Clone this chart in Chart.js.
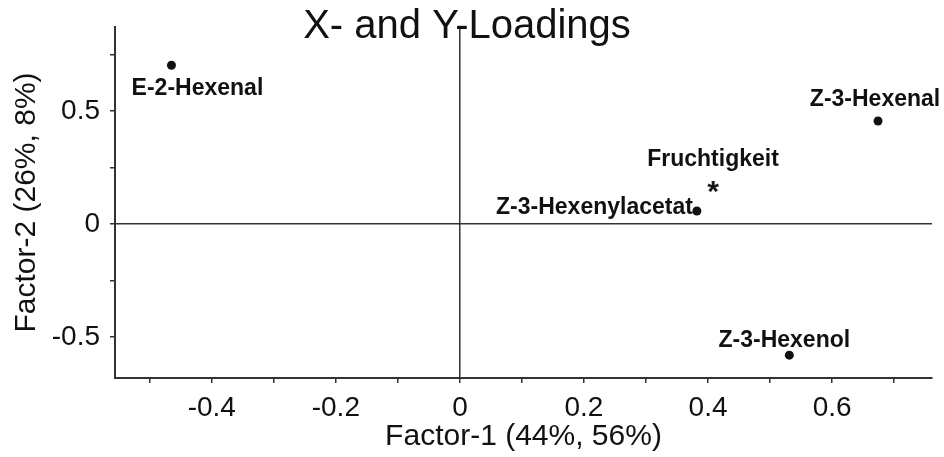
<!DOCTYPE html>
<html>
<head>
<meta charset="utf-8">
<script src="https://cdn.jsdelivr.net/npm/chart.js@4/dist/chart.umd.min.js"></script>
<style>
  html, body { margin: 0; padding: 0; background: #fff; }
  #wrap { width: 944px; height: 457px; position: relative; }
</style>
</head>
<body>
<div id="wrap"><canvas id="c"></canvas></div>
<script>
// ---- data ----
const predictorNames = ['E-2-Hexenal', 'Z-3-Hexenal', 'Z-3-Hexenylacetat', 'Z-3-Hexenol'];
const predictorFactor1 = [-0.465, 0.674, 0.382, 0.531];
const predictorFactor2 = [0.703, 0.456, 0.058, -0.580];

const responseNames = ['Fruchtigkeit'];
const responseFactor1 = [0.408];
const responseFactor2 = [0.164];

const xTickValues = [-0.5, -0.4, -0.3, -0.2, -0.1, 0, 0.1, 0.2, 0.3, 0.4, 0.5, 0.6, 0.7];
const xTickLabels = ['-0.4', '-0.2', '0', '0.2', '0.4', '0.6'];
const yTickValues = [-0.5, -0.25, 0, 0.25, 0.5, 0.75];
const yTickLabels = ['-0.5', '0', '0.5'];

const xRange = [-0.556, 0.761];
const yRange = [-0.681, 0.872];

const chartTitle = 'X- and Y-Loadings';
const xTitle = 'Factor-1 (44%, 56%)';
const yTitle = 'Factor-2 (26%, 8%)';

// ---- styling / placement ----
const FONT = '"Liberation Sans", Arial, Helvetica, sans-serif';
const INK = '#111';
const AXIS = '#333';

const labelPlacement = {
  'E-2-Hexenal':       { dx: 26, dy: 23, align: 'center' },
  'Z-3-Hexenal':       { dx: -3, dy: -21, align: 'center' },
  'Z-3-Hexenylacetat': { dx: -4, dy: -3, align: 'right' },
  'Z-3-Hexenol':       { dx: -5, dy: -15, align: 'center' },
  'Fruchtigkeit':      { dx: 0,  dy: -27, align: 'center' }
};

function fmt(v) {
  const r = Math.round(v * 100) / 100;
  return r === 0 ? '0' : String(r);
}

// asterisk point style
const star = document.createElement('canvas');
star.width = 24; star.height = 24;
(function () {
  const g = star.getContext('2d');
  g.fillStyle = INK;
  g.font = 'bold 30px ' + FONT;
  g.textAlign = 'center';
  g.textBaseline = 'alphabetic';
  const m = g.measureText('*');
  const h = m.actualBoundingBoxAscent + m.actualBoundingBoxDescent;
  const base = 12 - h / 2 + m.actualBoundingBoxAscent;
  g.fillText('*', 12, base);
})();

const predictorData = predictorNames.map((n, i) => ({ x: predictorFactor1[i], y: predictorFactor2[i], name: n }));
const responseData = responseNames.map((n, i) => ({ x: responseFactor1[i], y: responseFactor2[i], name: n }));

const labelsPlugin = {
  id: 'pointLabels',
  afterDatasetsDraw(chart) {
    const ctx = chart.ctx;
    ctx.save();
    ctx.fillStyle = INK;
    ctx.font = 'bold 23px ' + FONT;
    ctx.textBaseline = 'middle';
    chart.data.datasets.forEach((ds, di) => {
      const meta = chart.getDatasetMeta(di);
      meta.data.forEach((el, i) => {
        const name = ds.data[i].name;
        const p = labelPlacement[name] || { dx: 0, dy: -20, align: 'center' };
        ctx.textAlign = p.align;
        ctx.fillText(name, el.x + p.dx, el.y + p.dy);
      });
    });
    ctx.restore();
  },
  afterDraw(chart) {
    const ctx = chart.ctx;
    ctx.save();
    ctx.fillStyle = INK;
    ctx.font = '40px ' + FONT;
    ctx.textAlign = 'center';
    ctx.textBaseline = 'middle';
    ctx.fillText(chartTitle, 467, 27);
    ctx.restore();
  }
};

new Chart(document.getElementById('c'), {
  type: 'scatter',
  plugins: [labelsPlugin],
  data: {
    datasets: [
      {
        label: 'X-loadings',
        data: predictorData,
        pointStyle: 'circle',
        pointRadius: 4.5,
        pointHoverRadius: 4.5,
        backgroundColor: INK,
        borderColor: INK,
        borderWidth: 0
      },
      {
        label: 'Y-loadings',
        data: responseData,
        pointStyle: star,
        pointRadius: 8,
        pointHoverRadius: 8,
        backgroundColor: INK,
        borderColor: INK
      }
    ]
  },
  options: {
    responsive: true,
    maintainAspectRatio: false,
    animation: false,
    events: [],
    layout: { padding: { top: 27, right: 12, left: 0, bottom: 0 } },
    plugins: {
      legend: { display: false },
      tooltip: { enabled: false },
      title: { display: false }
    },
    scales: {
      x: {
        type: 'linear',
        min: xRange[0],
        max: xRange[1],
        afterBuildTicks(scale) { scale.ticks = xTickValues.map(v => ({ value: v })); },
        afterFit(scale) { scale.height = 79; },
        border: { display: true, color: AXIS, width: 2 },
        grid: {
          drawOnChartArea: true,
          drawTicks: true,
          tickLength: 5,
          tickWidth: 1.5,
          tickColor: AXIS,
          color: ctx => (ctx.tick && Math.abs(ctx.tick.value) < 1e-9 ? AXIS : 'rgba(0,0,0,0)'),
          lineWidth: 1.5
        },
        ticks: {
          autoSkip: false,
          maxRotation: 0,
          padding: 8,
          color: INK,
          font: { family: FONT, size: 28 },
          callback: v => (xTickLabels.includes(fmt(v)) ? fmt(v) : '')
        },
        title: {
          display: true,
          text: xTitle,
          color: INK,
          font: { family: FONT, size: 30 },
          padding: { top: 0, bottom: 2 }
        }
      },
      y: {
        type: 'linear',
        min: yRange[0],
        max: yRange[1],
        afterBuildTicks(scale) { scale.ticks = yTickValues.map(v => ({ value: v })); },
        afterFit(scale) { scale.width = 115; },
        border: { display: true, color: AXIS, width: 2 },
        grid: {
          drawOnChartArea: true,
          drawTicks: true,
          tickLength: 5,
          tickWidth: 1.5,
          tickColor: AXIS,
          color: ctx => (ctx.tick && Math.abs(ctx.tick.value) < 1e-9 ? AXIS : 'rgba(0,0,0,0)'),
          lineWidth: 1.5
        },
        ticks: {
          autoSkip: false,
          padding: 10,
          color: INK,
          font: { family: FONT, size: 28 },
          callback: v => (yTickLabels.includes(fmt(v)) ? fmt(v) : '')
        },
        title: {
          display: true,
          text: yTitle,
          color: INK,
          font: { family: FONT, size: 30 },
          padding: { top: 9, bottom: 0 }
        }
      }
    }
  }
});
</script>
</body>
</html>
